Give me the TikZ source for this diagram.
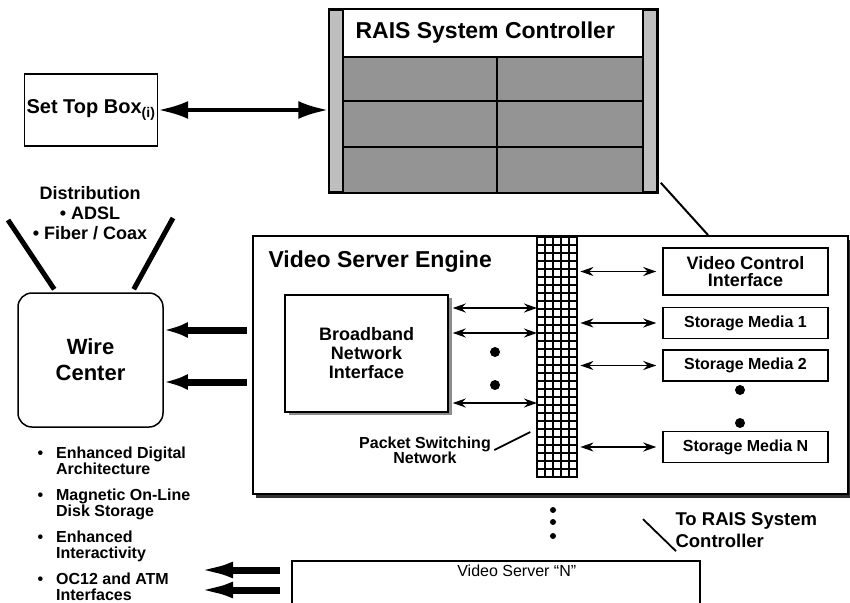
\documentclass[tikz,border=0pt]{standalone}
\usepackage{fontspec}
\setmainfont{Liberation Sans}
\usetikzlibrary{positioning,arrows.meta,shadows}

\begin{document}
\begin{tikzpicture}[x=1pt,y=-1pt,
		box/.style={draw,line width=1.5pt,inner sep=2pt,align=center,font=\bfseries\fontsize{16}{17}\selectfont},
		dbl/.style={{Stealth[length=13pt,width=9pt]}-{Stealth[length=13pt,width=9pt]},line width=1.4pt},
		fat/.style={-{Latex[length=24pt,width=16pt]},line width=7pt},
		dot/.style={circle,fill,inner sep=0pt,minimum size=10pt},
		lbl/.style={font=\bfseries\fontsize{16}{15}\selectfont,align=left}]
		\clip (0,0) rectangle (850,602);
		% RAIS system controller
		\node (rais) [draw,line width=1.5pt,fill=black!25,minimum width=328pt,minimum height=182pt,inner sep=0pt] at (493,101) {};
		\fill[black!42] (343,57) rectangle (643,192);
		\fill[white] (343,10) rectangle (643,57);
		\draw[line width=1.2pt] (343,10)--(343,192) (643,10)--(643,192);
		\foreach \y in{57,101,147}
		\draw[line width=1.6pt](343,\y)--(643,\y);
		\draw[line width=1.6pt](497,57)--(497,192);
		\draw[line width=1.5pt] (rais.north west) rectangle (rais.south east);
		\node (raistitle) [anchor=west,font=\bfseries\fontsize{23}{25}\selectfont] at (352,33) {RAIS System Controller};
		% set top box
		\node (stb) [box,font=\bfseries\fontsize{20}{22}\selectfont,minimum width=132pt,minimum height=72pt] at (91,110) {Set Top Box\textsubscript{(i)}};
		\draw[{Latex[length=30pt,width=18pt]}-{Latex[length=30pt,width=18pt]},line width=4pt] (stb.east)--(stb.east -| rais.west);
		% video server engine
		\node (vse) [draw,line width=1.5pt,fill=white,drop shadow={shadow xshift=3pt,shadow yshift=-4pt,fill=black!80,opacity=1},minimum width=595pt,minimum height=258pt,inner sep=0pt,anchor=north west] at (252,235) {};
		\node (vsetitle) [anchor=west,font=\bfseries\fontsize{23}{25}\selectfont] at (265,262) {Video Server Engine};
		\draw[line width=2pt] (rais.south east) ++(3,-10)--(vse.north -| 708,0);
		% packet switching network
		\node (psn) [minimum width=40pt,minimum height=240pt,inner sep=0pt,anchor=north west] at (537,237) {};
		\foreach \x in{537,545,...,577}
		\draw[line width=1.6pt](\x,237)--(\x,477);
		\foreach \y in{237,245,...,477}
		\draw[line width=1.6pt](537,\y)--(577,\y);
		\draw[line width=2pt] (psn.north west) rectangle (psn.south east);
		\node (psnlbl) [lbl,align=center] at (425,450) {Packet Switching\\Network};
		\draw[line width=1.8pt] (psnlbl.east)--++(36,-18);
		% broadband network interface
		\node (bni) [box,font=\bfseries\fontsize{18}{19}\selectfont,fill=white,minimum width=163pt,minimum height=117pt,drop shadow={shadow xshift=4pt,shadow yshift=-3pt,fill=black!45,opacity=1}] at (366.5,353.5) {Broadband\\Network\\Interface};
		\foreach \y in{308,333,403}
		\draw[dbl,shorten <=4pt] (bni.east |- 0,\y)--(psn.west |- 0,\y);
		\node (d1) [dot] at (495,352) {};
		\node (d2) [dot] at (495,385) {};
		% control and storage
		\node (vci) [box,font=\bfseries\fontsize{18}{17}\selectfont,minimum width=165pt,minimum height=47pt] at (745.5,271.5) {Video Control\\Interface};
		\node (sm1) [box,minimum width=165pt,minimum height=31pt] at (745.5,323) {Storage Media 1};
		\node (sm2) [box,minimum width=165pt,minimum height=31pt] at (745.5,365.5) {Storage Media 2};
		\node (smN) [box,minimum width=165pt,minimum height=31pt] at (745.5,447) {Storage Media N};
		\foreach \n in{vci,sm1,sm2,smN}
		\draw[dbl,shorten <=3pt,shorten >=6pt] (psn.east |- \n.west)--(\n.west);
		\node (d3) [dot] at (740,390) {};
		\node (d4) [dot] at (740,423) {};
		% wire center
		\node (wc) [draw,line width=1.5pt,rounded corners=14pt,minimum width=145pt,minimum height=134pt,align=center,font=\bfseries\fontsize{22}{26}\selectfont] at (90.5,360) {Wire\\Center};
		\coordinate (antL) at (8,220);
		\coordinate (antR) at (173,218);
		\draw[line width=5pt] ([xshift=37pt,yshift=3pt]wc.north west)--(antL);
		\draw[line width=5pt] ([xshift=-30pt,yshift=3pt]wc.north east)--(antR);
		\node (dist) [font=\bfseries\fontsize{18}{20}\selectfont,align=center] at (90,213) {Distribution\\\textbullet\ ADSL\\\textbullet\ Fiber / Coax};
		\foreach \y in{330,382}
		\draw[fat,shorten <=5pt] (vse.west |- 0,\y)--(wc.east |- 0,\y);
		% features
		\foreach \t [count=\i] in{{Enhanced Digital\\Architecture},{Magnetic On-Line\\Disk Storage},{Enhanced\\Interactivity},{OC12 and ATM\\Interfaces}}
		\node (feat\i) [lbl,anchor=base west] at (34,416+42*\i) {\textbullet\hspace{13pt}\begin{tabular}[t]{@{}l@{}}\t\end{tabular}};
		% video server N
		\node (vsn) [draw,line width=1.5pt,anchor=north west,minimum width=408pt,minimum height=80pt,inner sep=0pt] at (291,560) {};
		\node (vsnlbl) [font=\fontsize{16}{18}\selectfont] at ([xshift=21pt,yshift=-11pt]vsn.north) {Video Server “N”};
		\coordinate (out) at (193,580);
		\foreach \y in{570,590}
		\draw[-{Latex[length=40pt,width=16pt]},line width=7pt,shorten <=11pt] (vsn.west |- 0,\y)--(out |- 0,\y);
		\foreach \y in{510,522,536}
		\node (vd\y) [dot,minimum size=6pt] at (553,\y) {};
		\node (torais) [lbl,font=\bfseries\fontsize{18.5}{22}\selectfont,anchor=north west] at (672,509) {To RAIS System\\Controller};
		\draw[line width=1.8pt] ([xshift=4pt]torais.south west)--++(-33,-32);
	\end{tikzpicture}
\end{document}
